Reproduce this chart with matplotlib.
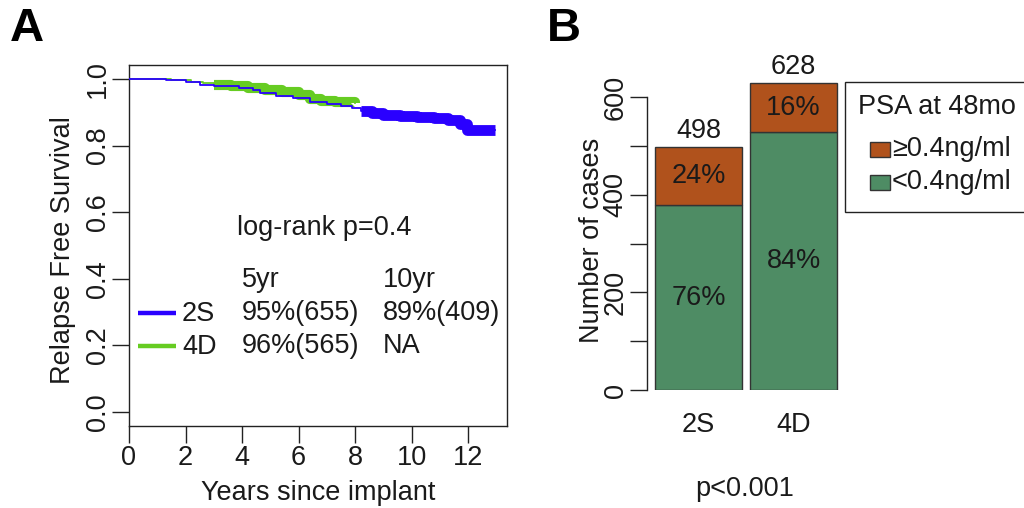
import numpy as np
import matplotlib
matplotlib.use("Agg")
import matplotlib.pyplot as plt
from matplotlib.patches import Rectangle
from matplotlib.lines import Line2D

plt.rcParams['font.family'] = ['Liberation Sans', 'DejaVu Sans']
FS = 19.5

# ---------------- Panel A data (Kaplan-Meier curves) ----------------
time_2S = [0.0, 1.3, 2.0, 2.5, 3.0, 3.9, 4.4, 4.65, 5.2, 5.8, 6.4, 7.0, 7.5, 7.9,
           8.2, 8.6, 9.0, 9.6, 10.2, 10.8, 11.3, 11.7, 11.95, 12.95]
surv_2S = [1.0, 0.997, 0.990, 0.982, 0.978, 0.972, 0.966, 0.958, 0.950, 0.943, 0.932, 0.925, 0.918, 0.912,
           0.905, 0.898, 0.893, 0.889, 0.887, 0.884, 0.876, 0.866, 0.848, 0.846]
censor_from_2S = 8.2

time_4D = [0.0, 1.5, 2.2, 2.6, 3.0, 3.6, 4.2, 4.8, 5.4, 6.0, 6.4, 6.8, 7.3, 8.0]
surv_4D = [1.0, 0.997, 0.992, 0.988, 0.982, 0.978, 0.972, 0.966, 0.962, 0.952, 0.940, 0.935, 0.930, 0.928]
censor_from_4D = 3.0

groups_A = ["2S", "4D"]
surv_5yr = ["95%(655)", "96%(565)"]
surv_10yr = ["89%(409)", "NA"]
logrank = "log-rank p=0.4"
xticks_A = [0, 2, 4, 6, 8, 10, 12]
yticks_A = [0.0, 0.2, 0.4, 0.6, 0.8, 1.0]

# ---------------- Panel B data ----------------
groups_B = ["2S", "4D"]
n_low = [378, 528]     # <0.4 ng/ml
n_high = [120, 100]    # >=0.4 ng/ml
totals = [498, 628]
pct_low = ["76%", "84%"]
pct_high = ["24%", "16%"]
legend_title = "PSA at 48mo"
legend_labels = ["\u22650.4ng/ml", "<0.4ng/ml"]
yticks_B = [0, 100, 200, 300, 400, 500, 600]
p_text = "p<0.001"

# ---------------- styling ----------------
C_BLUE = "#2a00ff"
C_GREEN_LINE = "#66cc22"
C_BROWN = "#b0521c"
C_GREEN_BAR = "#4e8c64"
C_AX = "#222222"
C_TXT = "#1a1a1a"

W, H = 1024, 508
fig = plt.figure(figsize=(W / 100, H / 100), dpi=100)


def fx(x):
    return x / W


def fy(y):
    return 1 - y / H


def style_axis(ax):
    ax.tick_params(axis='both', length=12.3, width=1.0, color=C_AX, labelsize=FS,
                   labelcolor=C_TXT)


# ================= Panel A =================
axA = fig.add_axes([fx(129), fy(426), 378 / W, 361 / H])
axA.set_xlim(0, 13.37)
axA.set_ylim(-0.042, 1.042)
for sp in axA.spines.values():
    sp.set_linewidth(1.0)
    sp.set_color(C_AX)
style_axis(axA)
axA.set_xticks(xticks_A)
axA.set_xticklabels([str(v) for v in xticks_A])
axA.set_yticks(yticks_A)
axA.set_yticklabels([f"{v:.1f}" for v in yticks_A], rotation=90, va='center')
axA.tick_params(axis='x', pad=1.5)
axA.tick_params(axis='y', pad=1.0)


def draw_km(ax, t, s, start, color, thin, thick, z):
    t = np.asarray(t)
    s = np.asarray(s)
    ax.step(t, s, where='post', color=color, lw=thin, zorder=z)
    m = t >= start
    ax.step(t[m], s[m], where='post', color=color, lw=thick, zorder=z,
            solid_capstyle='butt')


draw_km(axA, time_4D, surv_4D, censor_from_4D, C_GREEN_LINE, 1.3, 7.3, 2)
draw_km(axA, time_2S, surv_2S, censor_from_2S, C_BLUE, 1.3, 7.8, 3)

axA.set_xlabel("Years since implant", fontsize=FS, va='center', color=C_TXT)
axA.xaxis.set_label_coords((318 - 129) / 378, (426 - 493) / 361)
axA.set_ylabel("Relapse Free Survival", fontsize=FS, va='center', color=C_TXT)
axA.yaxis.set_label_coords((63 - 129) / 378, (426 - 250) / 361)

# in-plot annotation / legend table
fig.text(fx(237), fy(228), logrank, fontsize=FS, va='center', ha='left', color=C_TXT)
fig.text(fx(242), fy(280), "5yr", fontsize=FS, va='center', ha='left', color=C_TXT)
fig.text(fx(383), fy(280), "10yr", fontsize=FS, va='center', ha='left', color=C_TXT)
row_y = [313, 346]
line_cols = [C_BLUE, C_GREEN_LINE]
for i, g in enumerate(groups_A):
    fig.add_artist(Line2D([fx(138), fx(176)], [fy(row_y[i]), fy(row_y[i])],
                          transform=fig.transFigure, color=line_cols[i], lw=3.2,
                          solid_capstyle='butt'))
    fig.text(fx(182), fy(row_y[i] + 1), g, fontsize=FS, va='center', ha='left', color=C_TXT)
    fig.text(fx(242), fy(row_y[i]), surv_5yr[i], fontsize=FS, va='center', ha='left', color=C_TXT)
    fig.text(fx(383), fy(row_y[i]), surv_10yr[i], fontsize=FS, va='center', ha='left', color=C_TXT)

fig.text(fx(27), fy(29), "A", fontsize=34, fontweight='bold', ha='center', va='center')

# ================= Panel B =================
axB = fig.add_axes([fx(647), fy(390), 198 / W, 322.3 / H])
axB.set_xlim(-0.542, 1.542)
axB.set_ylim(0, 660)
for k in ['top', 'right', 'bottom']:
    axB.spines[k].set_visible(False)
axB.spines['left'].set_bounds(0, 600)
axB.spines['left'].set_linewidth(1.0)
axB.spines['left'].set_color(C_AX)
style_axis(axB)
axB.set_yticks(yticks_B)
axB.set_yticklabels([str(v) if v % 200 == 0 else "" for v in yticks_B], rotation=90, va='center')
axB.tick_params(axis='y', pad=1.0)
xpos = np.arange(len(groups_B))
axB.set_xticks(xpos)
axB.set_xticklabels(groups_B)
axB.tick_params(axis='x', length=0, pad=16)

bw = 87 / 95
axB.bar(xpos, n_low, width=bw, color=C_GREEN_BAR, edgecolor="#333333", lw=1.0)
axB.bar(xpos, n_high, width=bw, bottom=n_low, color=C_BROWN, edgecolor="#333333", lw=1.0)
for i in range(len(groups_B)):
    axB.text(xpos[i], n_low[i] / 2, pct_low[i], ha='center', va='center', fontsize=FS, color=C_TXT)
    axB.text(xpos[i], n_low[i] + n_high[i] / 2, pct_high[i], ha='center', va='center', fontsize=FS,
             color=C_TXT)
    axB.annotate(str(totals[i]), (xpos[i], totals[i]), xytext=(0, 11.5), textcoords='offset points',
                 ha='center', va='center', fontsize=FS, color=C_TXT, annotation_clip=False)

axB.set_ylabel("Number of cases", fontsize=FS, va='center', color=C_TXT)
axB.yaxis.set_label_coords((592 - 647) / 198, (390 - 240) / 322.3)

fig.text(fx(745), fy(489), p_text, fontsize=FS, ha='center', va='center', color=C_TXT)
fig.text(fx(564), fy(29), "B", fontsize=34, fontweight='bold', ha='center', va='center')

# legend (drawn as a boxed key, like the reference)
fig.add_artist(Rectangle((fx(845), fy(212)), fx(200), 130 / H, transform=fig.transFigure,
                         facecolor='white', edgecolor=C_AX, lw=1.0))
fig.text(fx(858), fy(107), legend_title, fontsize=FS, ha='left', va='center', color=C_TXT)
key_cols = [C_BROWN, C_GREEN_BAR]
key_y = [149, 182]
for i, lab in enumerate(legend_labels):
    fig.add_artist(Rectangle((fx(870), fy(key_y[i] + 7.5)), 20 / W, 15 / H, transform=fig.transFigure,
                             facecolor=key_cols[i], edgecolor="#333333", lw=1.0))
    fig.text(fx(892), fy(key_y[i]), lab, fontsize=FS, ha='left', va='center', color=C_TXT)

fig.savefig("out.png", dpi=100)
